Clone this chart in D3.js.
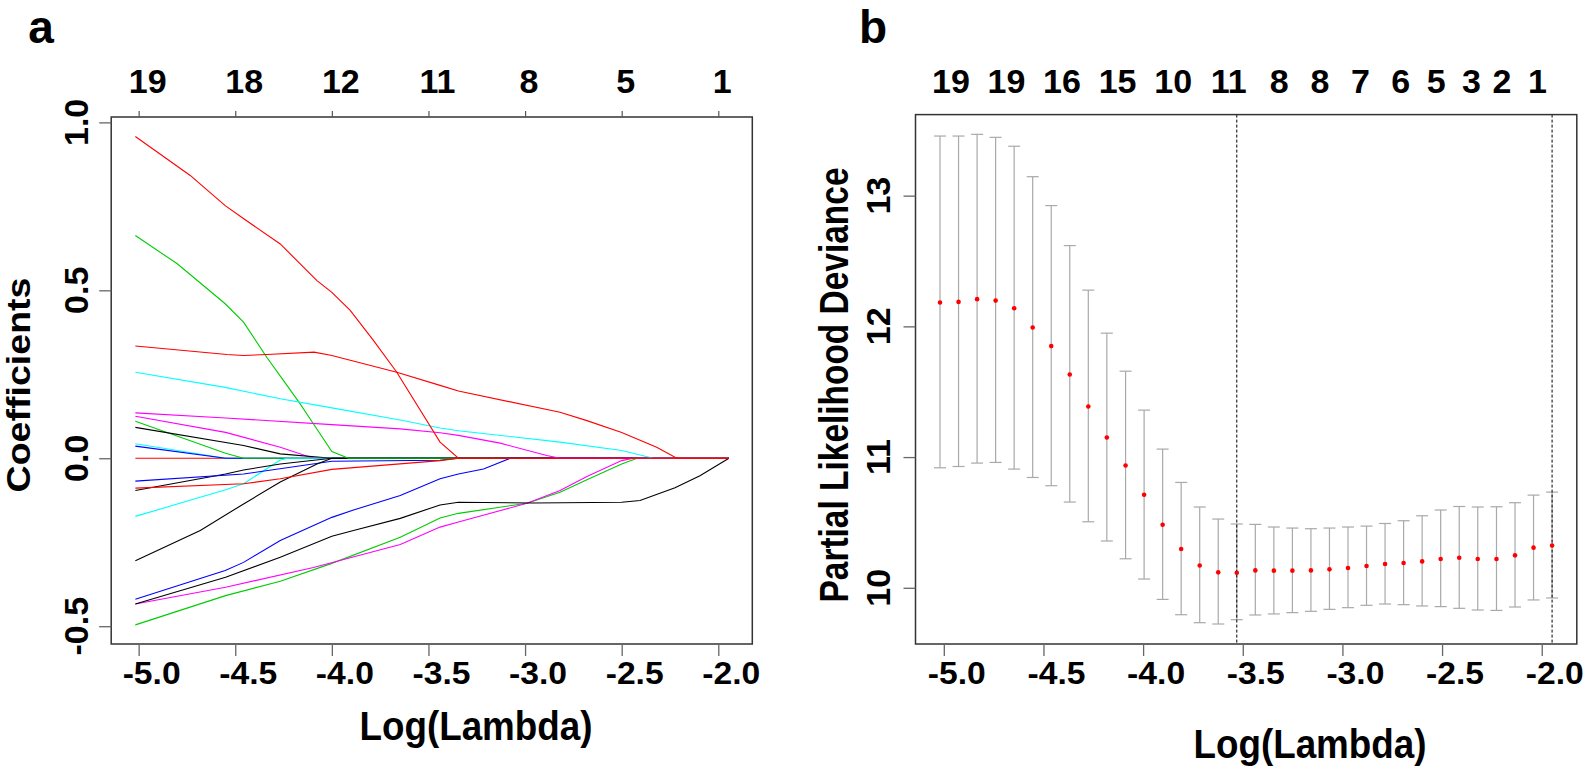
<!DOCTYPE html>
<html><head><meta charset="utf-8">
<script src="https://cdn.jsdelivr.net/npm/d3@7"></script>
<style>
html,body{margin:0;padding:0;background:#fff;}
text{font-family:"Liberation Sans",Arial,Helvetica,sans-serif;font-weight:bold;fill:#000;}
</style></head>
<body><svg id="c" width="1586" height="766"></svg>
<script>
// ---------- DATA ----------
const xTicks = [-5.0, -4.5, -4.0, -3.5, -3.0, -2.5, -2.0];
const xTickLabels = ["-5.0", "-4.5", "-4.0", "-3.5", "-3.0", "-2.5", "-2.0"];
const topLabelsA = ["19", "18", "12", "11", "8", "5", "1"];
const yTicksA = [-0.5, 0.0, 0.5, 1.0];
const yTickLabelsA = ["-0.5", "0.0", "0.5", "1.0"];
const yTicksB = [10, 11, 12, 13];
const yTickLabelsB = ["10", "11", "12", "13"];

// coefficient paths: [log(lambda), coefficient]
const red1   = [[-5.017,0.958],[-4.733,0.842],[-4.552,0.752],[-4.456,0.713],[-4.267,0.638],[-4.077,0.529],[-4.0,0.494],[-3.905,0.44],[-3.784,0.35],[-3.664,0.256],[-3.44,0.048],[-3.345,0],[-1.945,0]];
const green1 = [[-5.017,0.663],[-4.80,0.579],[-4.552,0.46],[-4.457,0.405],[-4.336,0.30],[-4.25,0.231],[-4.164,0.162],[-4.095,0.102],[-4.0,0.02],[-3.914,0],[-1.945,0]];
const red2   = [[-5.017,0.334],[-4.543,0.309],[-4.457,0.306],[-4.336,0.309],[-4.092,0.316],[-4.0,0.306],[-3.664,0.256],[-3.44,0.217],[-3.345,0.2],[-2.819,0.137],[-2.68,0.112],[-2.5,0.077],[-2.319,0.033],[-2.224,0.003],[-2.2,0],[-1.945,0]];
const cyan1  = [[-5.017,0.256],[-4.552,0.211],[-4.267,0.177],[-4.0,0.15],[-3.646,0.114],[-3.44,0.09],[-3.345,0.082],[-2.819,0.048],[-2.5,0.023],[-2.336,0],[-1.945,0]];
const mag1   = [[-5.017,0.135],[-4.55,0.12],[-4.0,0.1],[-3.646,0.0875],[-3.44,0.076],[-3.345,0.068],[-3.129,0.045],[-2.888,0.008],[-2.819,0],[-1.945,0]];
const mag2   = [[-5.017,0.125],[-4.55,0.077],[-4.267,0.033],[-4.095,0],[-1.945,0]];
const green2 = [[-5.017,0.11],[-4.55,0.015],[-4.457,0],[-1.945,0]];
const black1 = [[-5.017,0.092],[-4.457,0.038],[-4.267,0.013],[-4.0,0],[-1.945,0]];
const cyan2  = [[-5.017,0.043],[-4.55,0],[-1.945,0]];
const blue1  = [[-5.017,0.036],[-4.55,0],[-1.945,0]];
const redZ   = [[-5.017,0],[-1.945,0]];
const blue2  = [[-5.017,-0.068],[-4.457,-0.047],[-4.0,-0.009],[-3.44,-0.006],[-3.345,0],[-1.945,0]];
const red3   = [[-5.017,-0.089],[-4.457,-0.076],[-4.267,-0.061],[-4.0,-0.033],[-3.44,-0.007],[-3.345,0],[-1.945,0]];
const black2 = [[-5.017,-0.096],[-4.55,-0.047],[-4.457,-0.035],[-4.267,-0.017],[-4.0,0],[-1.945,0]];
const cyan3  = [[-5.017,-0.173],[-4.55,-0.094],[-4.457,-0.076],[-4.267,-0.005],[-4.23,0],[-1.945,0]];
const black3 = [[-5.017,-0.305],[-4.681,-0.215],[-4.457,-0.136],[-4.267,-0.071],[-4.077,-0.017],[-4.0,0],[-1.945,0]];
const blue3  = [[-5.017,-0.42],[-4.552,-0.334],[-4.457,-0.31],[-4.267,-0.245],[-4.0,-0.176],[-3.888,-0.154],[-3.646,-0.111],[-3.44,-0.061],[-3.345,-0.047],[-3.215,-0.032],[-3.077,0],[-1.945,0]];
const black4 = [[-5.017,-0.434],[-4.55,-0.354],[-4.267,-0.295],[-4.0,-0.232],[-3.888,-0.215],[-3.646,-0.179],[-3.44,-0.139],[-3.345,-0.131],[-2.957,-0.133],[-2.5,-0.131],[-2.405,-0.126],[-2.224,-0.088],[-2.095,-0.052],[-1.945,0]];
const mag3   = [[-5.017,-0.434],[-4.55,-0.384],[-4.095,-0.325],[-3.646,-0.257],[-3.44,-0.205],[-3.345,-0.19],[-2.99,-0.134],[-2.819,-0.096],[-2.68,-0.054],[-2.5,-0.007],[-2.44,0],[-1.945,0]];
const green3 = [[-5.017,-0.496],[-4.55,-0.409],[-4.267,-0.366],[-4.0,-0.313],[-3.646,-0.235],[-3.44,-0.178],[-3.345,-0.164],[-2.99,-0.134],[-2.819,-0.101],[-2.68,-0.064],[-2.5,-0.017],[-2.42,0],[-1.945,0]];

const pathSeries = [
  {v: redZ, c: "#FF0000"}, {v: cyan2, c: "#00FFFF"}, {v: blue1, c: "#0000FF"},
  {v: green2, c: "#00CD00"}, {v: mag2, c: "#FF00FF"}, {v: black1, c: "#000000"},
  {v: cyan3, c: "#00FFFF"}, {v: black2, c: "#000000"}, {v: blue2, c: "#0000FF"},
  {v: black3, c: "#000000"}, {v: green1, c: "#00CD00"}, {v: blue3, c: "#0000FF"},
  {v: red3, c: "#FF0000"}, {v: mag1, c: "#FF00FF"}, {v: cyan1, c: "#00FFFF"},
  {v: green3, c: "#00CD00"}, {v: mag3, c: "#FF00FF"}, {v: black4, c: "#000000"},
  {v: red1, c: "#FF0000"}, {v: red2, c: "#FF0000"}
];

// cross-validation curve
const logLambdaB = [-5.019,-4.926,-4.833,-4.740,-4.647,-4.554,-4.461,-4.368,-4.275,-4.182,-4.088,-3.995,-3.902,-3.809,-3.716,-3.623,-3.530,-3.437,-3.344,-3.251,-3.158,-3.065,-2.972,-2.879,-2.786,-2.693,-2.600,-2.507,-2.414,-2.321,-2.227,-2.134,-2.041,-1.948];
const cvm  = [12.182,12.187,12.208,12.197,12.139,11.991,11.849,11.632,11.387,11.150,10.936,10.712,10.482,10.297,10.171,10.118,10.115,10.133,10.131,10.131,10.133,10.141,10.151,10.167,10.182,10.190,10.202,10.220,10.230,10.220,10.220,10.248,10.307,10.324];
const cvup = [13.456,13.456,13.469,13.446,13.378,13.145,12.924,12.618,12.277,11.948,11.657,11.359,11.061,10.806,10.618,10.526,10.488,10.485,10.465,10.457,10.452,10.457,10.465,10.472,10.492,10.513,10.551,10.595,10.622,10.618,10.620,10.651,10.709,10.732];
const cvlo = [10.918,10.928,10.954,10.959,10.908,10.844,10.781,10.656,10.505,10.358,10.222,10.067,9.911,9.794,9.733,9.723,9.756,9.792,9.800,9.810,9.820,9.835,9.848,9.866,9.876,9.871,9.861,9.856,9.843,9.830,9.827,9.853,9.907,9.922];
const topLabelsB = ["19","19","16","15","10","11","8","8","7","6","5","3","2","1"];
const topLabelPosB = [-4.964,-4.686,-4.407,-4.128,-3.849,-3.570,-3.317,-3.113,-2.910,-2.707,-2.529,-2.352,-2.199,-2.022];
const lambdaMin = -3.530, lambda1se = -1.948;

// ---------- DRAW ----------
const svg = d3.select("#c");
svg.append("rect").attr("width",1586).attr("height",766).attr("fill","#fff");

function label(g, txt, x, y, size, len, rot, anchor) {
  const t = g.append("text").text(txt).attr("font-size", size)
    .attr("text-anchor", anchor || "middle")
    .attr("transform", `translate(${x},${y})` + (rot ? " rotate(-90)" : ""));
  if (len) t.attr("textLength", len).attr("lengthAdjust", "spacingAndGlyphs");
  return t;
}

function frame(g, xs, ys, yT, yTL, ylab, ylabX, ylabY, ylabLen, ylabSize, yTickX, xlabX, xlabY) {
  const [x0, x1] = xs.range(), [y0, y1] = ys.range();
  g.append("rect").attr("x", x0).attr("y", y1).attr("width", x1 - x0).attr("height", y0 - y1)
    .attr("fill", "none").attr("stroke", "#333").attr("stroke-width", 1.5);
  // bottom axis
  const bx = g.append("g").attr("transform", `translate(0,${y0})`)
    .call(d3.axisBottom(xs).tickValues(xTicks).tickSize(12).tickSizeOuter(0));
  bx.select(".domain").remove();
  bx.selectAll("line").attr("stroke", "#666").attr("stroke-width", 1.3);
  bx.selectAll("text").remove();
  xTicks.forEach((d, i) => label(g, xTickLabels[i], xs(d) + 13, 684, 32, 58));
  // left axis
  const ly = g.append("g").attr("transform", `translate(${x0},0)`)
    .call(d3.axisLeft(ys).tickValues(yT).tickSize(12).tickSizeOuter(0));
  ly.select(".domain").remove();
  ly.selectAll("line").attr("stroke", "#666").attr("stroke-width", 1.3);
  ly.selectAll("text").remove();
  yT.forEach((d, i) => label(g, yTL[i], yTickX, ys(d), 34, null, true));
  label(g, ylab, ylabX, ylabY, ylabSize, ylabLen, true);
  label(g, "Log(Lambda)", xlabX, xlabY, 40, 233);
}

// Panel a
const xa = d3.scaleLinear().domain([-5.142, -1.824]).range([111.2, 752.3]);
const ya = d3.scaleLinear().domain([-0.553, 1.016]).range([644, 117]);
const ga = svg.append("g");
const line = d3.line().x(d => xa(d[0])).y(d => ya(d[1]));
ga.append("g").selectAll("path").data(pathSeries).join("path")
  .attr("d", d => line(d.v)).attr("fill", "none").attr("stroke", d => d.c).attr("stroke-width", 1.1);
frame(ga, xa, ya, yTicksA, yTickLabelsA, "Coefficients", 30, 385, 215, 34, 88, 476, 740);
const ta = ga.append("g").attr("transform", "translate(0,117)")
  .call(d3.axisTop(xa).tickValues(xTicks).tickSize(6).tickSizeOuter(0).tickFormat(""));
ta.select(".domain").remove();
ta.selectAll("line").attr("stroke", "#555").attr("stroke-width", 1.2);
xTicks.forEach((d, i) => label(ga, topLabelsA[i], xa(d) + (topLabelsA[i].length > 1 ? 9 : 4), 93, 34));
label(ga, "a", 41, 43, 46);

// Panel b
const xb = d3.scaleLinear().domain([-5.142, -1.824]).range([915.5, 1576.8]);
const yb = d3.scaleLinear().domain([9.57, 13.62]).range([644, 114.6]);
const gb = svg.append("g");
const cv = logLambdaB.map((l, i) => ({l, m: cvm[i], u: cvup[i], lo: cvlo[i]}));
const eb = gb.append("g").attr("stroke", "#A9A9A9").attr("stroke-width", 1.2);
eb.selectAll(".v").data(cv).join("line").attr("x1", d => xb(d.l)).attr("x2", d => xb(d.l))
  .attr("y1", d => yb(d.u)).attr("y2", d => yb(d.lo));
eb.selectAll(".cu").data(cv).join("line").attr("x1", d => xb(d.l) - 6).attr("x2", d => xb(d.l) + 6)
  .attr("y1", d => yb(d.u)).attr("y2", d => yb(d.u));
eb.selectAll(".cl").data(cv).join("line").attr("x1", d => xb(d.l) - 6).attr("x2", d => xb(d.l) + 6)
  .attr("y1", d => yb(d.lo)).attr("y2", d => yb(d.lo));
gb.append("g").selectAll("line").data([lambdaMin, lambda1se]).join("line")
  .attr("x1", d => xb(d)).attr("x2", d => xb(d)).attr("y1", 114.6).attr("y2", 644)
  .attr("stroke", "#000").attr("stroke-width", 1).attr("stroke-dasharray", "3,2");
gb.append("g").selectAll("circle").data(cv).join("circle")
  .attr("cx", d => xb(d.l)).attr("cy", d => yb(d.m)).attr("r", 2.3).attr("fill", "#FF0000");
frame(gb, xb, yb, yTicksB, yTickLabelsB, "Partial Likelihood Deviance", 848, 385, 435, 40, 890, 1310, 758);
topLabelsB.forEach((t, i) => label(gb, t, xb(topLabelPosB[i]), 93, 34));
label(gb, "b", 873, 43, 46);
</script></body></html>
